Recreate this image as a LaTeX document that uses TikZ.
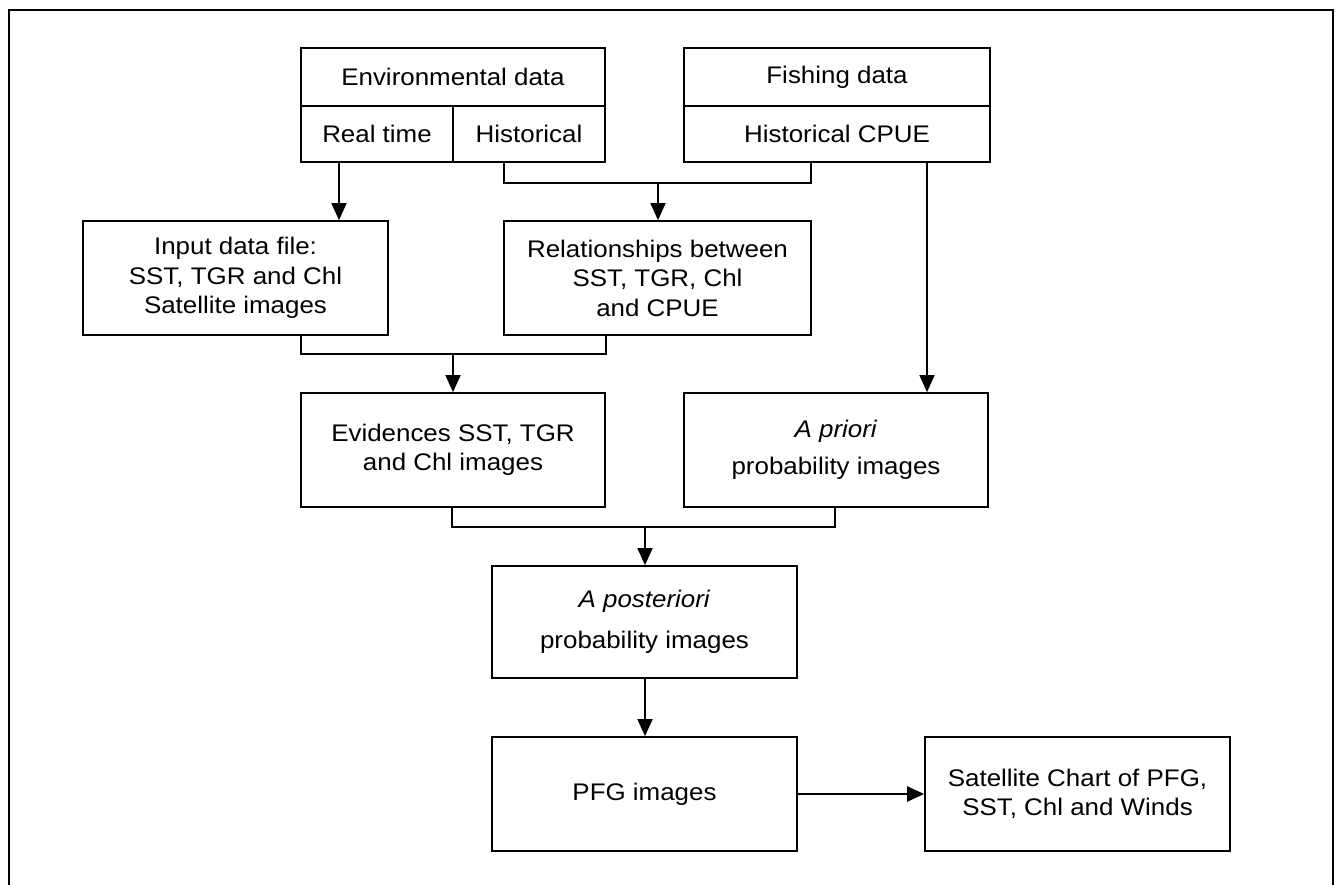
\documentclass[tikz,border=0pt]{standalone}
\usepackage{fontspec}
\setmainfont{Liberation Sans}[FakeStretch=1.08]
\usetikzlibrary{arrows.meta}
\tikzset{
  box/.style={draw, line width=1.7pt, inner sep=0pt, align=center, font=\fontsize{24}{29.5}\selectfont},
  txt/.style={inner sep=0pt, align=center, font=\fontsize{24}{29.5}\selectfont},
  conn/.style={line width=1.6pt},
  arr/.style={line width=1.6pt, -{Triangle[length=17pt,width=15pt]}},
}
\begin{document}
\begin{tikzpicture}[x=1pt,y=-1pt]
\useasboundingbox (0,0) rectangle (1337,885);
% outer frame (open at the bottom)
\draw[line width=1.4pt] (9,885) -- (9,10) -- (1333,10) -- (1333,885);

% boxes
\node[box, minimum width=304pt, minimum height=114pt] (env) at (453,105) {};
\node[box, minimum width=306pt, minimum height=114pt] (fish) at (837,105) {};
\draw[line width=1.7pt] (env.west |- 0,106) -- (env.east |- 0,106);
\draw[line width=1.7pt] (453,106) -- (env.south -| 453,0);
\draw[line width=1.7pt] (fish.west |- 0,106) -- (fish.east |- 0,106);
\node[txt] (envt) at (453,77) {Environmental data};
\node[txt] (rtt) at (377,134) {Real time};
\node[txt] (hist) at (529,134) {Historical};
\node[txt] (fisht) at (837,77) {Fishing data};
\node[txt] (cpue) at (837,134) {Historical CPUE};

\node[box, minimum width=305pt, minimum height=114pt] (input) at (235.5,278) {Input data file:\\SST, TGR and Chl\\Satellite images};
\node[box, minimum width=307pt, minimum height=114pt] (rel) at (657.5,278) {Relationships between\\SST, TGR, Chl\\and CPUE};
\node[box, minimum width=304pt, minimum height=114pt] (evid) at (453,450) {Evidences SST, TGR\\and Chl images};
\node[box, minimum width=304pt, minimum height=114pt] (apri) at (836,450) {\textit{A priori}\\[8pt]probability images};
\node[box, minimum width=305pt, minimum height=112pt] (apost) at (644.5,622) {\textit{A posteriori}\\[12pt]probability images};
\node[box, minimum width=305pt, minimum height=114pt] (pfg) at (644.5,794) {PFG images};
\node[box, minimum width=305pt, minimum height=114pt] (sat) at (1077.5,794) {Satellite Chart of PFG,\\SST, Chl and Winds};

% connectors
\coordinate (rt) at (339,162);
\draw[arr] (rt) -- (rt |- input.north);

\coordinate (h1) at (504,183);
\coordinate (h2) at (811,183);
\coordinate (hm) at (658,183);
\draw[conn] (h1 |- env.south) -- (h1) -- (h2) -- (h2 |- fish.south);
\draw[arr] (hm) -- (hm |- rel.north);

\coordinate (fa) at (927,162);
\draw[arr] (fa |- fish.south) -- (fa |- apri.north);

\coordinate (j1) at (301,354);
\coordinate (j2) at (606,354);
\coordinate (jm) at (453,354);
\draw[conn] (j1 |- input.south) -- (j1) -- (j2) -- (j2 |- rel.south);
\draw[arr] (jm) -- (jm |- evid.north);

\coordinate (k1) at (452,527);
\coordinate (k2) at (835,527);
\coordinate (km) at (645,527);
\draw[conn] (k1 |- evid.south) -- (k1) -- (k2) -- (k2 |- apri.south);
\draw[arr] (km) -- (km |- apost.north);

\draw[arr] (apost.south -| km) -- (pfg.north -| km);
\draw[arr, line width=2.2pt] (pfg.east) -- (sat.west);
\end{tikzpicture}
\end{document}
